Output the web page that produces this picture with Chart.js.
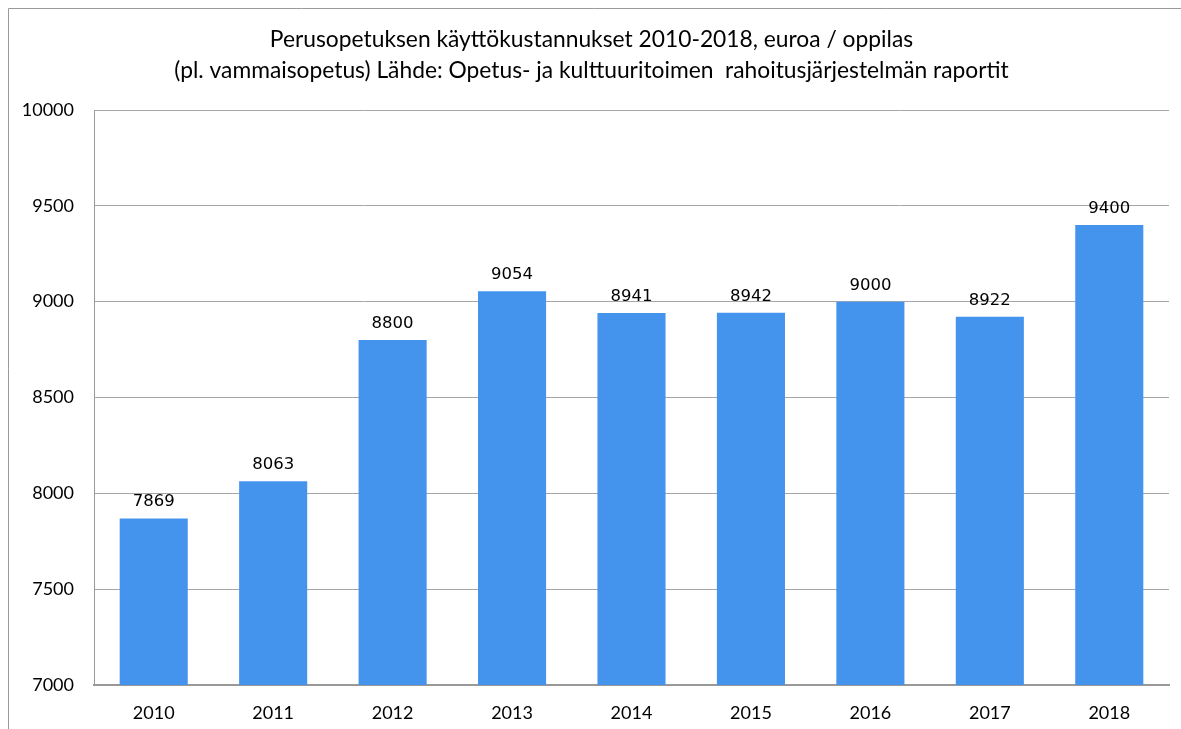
<!DOCTYPE html>
<html>
<head>
<meta charset="utf-8">
<script src="https://cdn.jsdelivr.net/npm/chart.js@4"></script>
<style>
html,body{margin:0;padding:0;background:#fff;}
#wrap{position:relative;width:1181px;height:729px;}
</style>
</head>
<body>
<div id="wrap"><canvas id="c" width="1181" height="729"></canvas></div>
<script>
const years = ['2010','2011','2012','2013','2014','2015','2016','2017','2018'];
const costs = [7869, 8063, 8800, 9054, 8941, 8942, 9000, 8922, 9400];
const titleLines = [
  'Perusopetuksen käyttökustannukset 2010-2018, euroa / oppilas',
  '(pl. vammaisopetus) Lähde: Opetus- ja kulttuuritoimen  rahoitusjärjestelmän raportit'
];
const yMin = 7000, yMax = 10000, yStep = 500;

const framePlugin = {
  id: 'frame',
  beforeDraw(chart) {
    const ctx = chart.ctx;
    ctx.save();
    ctx.strokeStyle = '#9a9a9a';
    ctx.lineWidth = 1;
    ctx.beginPath();
    ctx.moveTo(8.5, chart.height);
    ctx.lineTo(8.5, 8.5);
    ctx.lineTo(chart.width, 8.5);
    ctx.stroke();
    ctx.restore();
  }
};

const labelPlugin = {
  id: 'barLabels',
  afterDatasetsDraw(chart) {
    const ctx = chart.ctx;
    const meta = chart.getDatasetMeta(0);
    ctx.save();
    ctx.font = '16.5px "DejaVu Sans"';
    ctx.fillStyle = '#000';
    ctx.textAlign = 'center';
    ctx.textBaseline = 'alphabetic';
    meta.data.forEach((bar, i) => {
      ctx.fillText(String(costs[i]), bar.x, bar.y - 12);
    });
    ctx.restore();
  }
};

new Chart(document.getElementById('c'), {
  type: 'bar',
  data: {
    labels: years,
    datasets: [{
      data: costs,
      backgroundColor: '#4494EE',
      borderWidth: 0,
      categoryPercentage: 1,
      barPercentage: 0.57
    }]
  },
  options: {
    responsive: false,
    animation: false,
    devicePixelRatio: 1,
    layout: { padding: { left: 14, right: 12, top: 0, bottom: 0 } },
    plugins: {
      legend: { display: false },
      tooltip: { enabled: false },
      title: {
        display: true,
        text: titleLines,
        color: '#000',
        font: { family: 'Lato', size: 22.8, weight: 'normal', lineHeight: 1.36 },
        padding: { top: 24, bottom: 24 }
      }
    },
    scales: {
      x: {
        grid: { display: false, drawTicks: false },
        border: { display: true, color: '#999999', width: 2 },
        ticks: { color: '#000', font: { family: 'Lato', size: 18 }, padding: 17, maxRotation: 0 },
        afterFit(s) { s.height = 44; }
      },
      y: {
        min: yMin,
        max: yMax,
        grid: { color: '#a6a6a6', lineWidth: 1, drawTicks: false },
        border: { display: true, color: '#999999', width: 1 },
        ticks: {
          stepSize: yStep, color: '#000', font: { family: 'Lato', size: 18 }, padding: 20,
          callback: (v) => String(v)
        },
        afterFit(s) { s.width = 80; }
      }
    }
  },
  plugins: [framePlugin, labelPlugin]
});
</script>
</body>
</html>
